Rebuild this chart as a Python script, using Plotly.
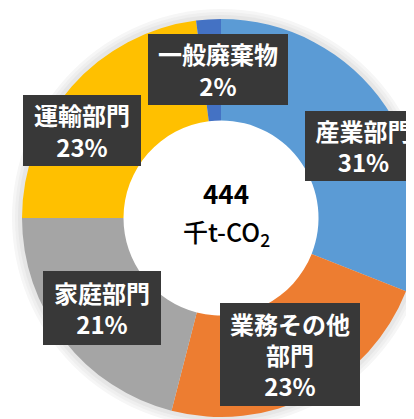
import plotly.graph_objects as go

categories = ["産業部門", "業務その他部門", "家庭部門", "運輸部門", "一般廃棄物"]
values = [31, 23, 21, 23, 2]
colors = ["#5B9BD5", "#ED7D31", "#A5A5A5", "#FFC000", "#4472C4"]
label_lines = [["産業部門"], ["業務その他", "部門"], ["家庭部門"], ["運輸部門"], ["一般廃棄物"]]
total_value = "444"
total_unit = "千t-CO<sub>2</sub>"

W, H = 414, 419
cx, cy, r = 213, 210, 199
hole = 0.49

FONT = "Noto Sans CJK JP"

fig = go.Figure()
fig.add_trace(go.Pie(
    labels=categories, values=values, sort=False, direction="clockwise", rotation=0,
    hole=hole, marker=dict(colors=colors, line=dict(width=0)),
    textinfo="none", hoverinfo="label+percent", showlegend=False,
    domain=dict(x=[(cx - r) / W, (cx + r) / W], y=[1 - (cy + r) / H, 1 - (cy - r) / H]),
))

# soft halo behind the ring, white inside the hole
shapes = []
ri = r * hole
for rr, col in [(r + 10, "#f6f6f6"), (r + 7, "#efefef"), (r + 4, "#e6e6e6"), (ri + 1, "#ffffff")]:
    shapes.append(dict(type="circle", xref="paper", yref="paper", layer="below",
                       x0=(cx - rr) / W, x1=(cx + rr) / W,
                       y0=1 - (cy + rr) / H, y1=1 - (cy - rr) / H,
                       fillcolor=col, line=dict(width=0)))

# label boxes (pixel centre, width, height)
boxes = {
    "産業部門": (355.5, 138, 117, 70),
    "業務その他部門": (282, 346.5, 140, 103),
    "家庭部門": (94, 300, 118, 74),
    "運輸部門": (74, 122.5, 118, 71),
    "一般廃棄物": (210, 61.5, 140, 71),
}
annotations = []
for cat, lines, v in zip(categories, label_lines, values):
    bx, by, bw, bh = boxes[cat]
    text = "<br>".join(lines + [f"{v}%"])
    annotations.append(dict(
        text=text, xref="paper", yref="paper", x=bx / W, y=1 - by / H,
        xanchor="center", yanchor="middle", showarrow=False,
        width=bw, height=bh, align="center", valign="middle",
        bgcolor="#383838", borderpad=0, borderwidth=0,
        font=dict(family=FONT, size=24, color="white", weight="bold"),
    ))

annotations.append(dict(text=f"<b>{total_value}</b>", xref="paper", yref="paper",
                        x=218 / W, y=1 - 185 / H, xanchor="center", yanchor="middle",
                        showarrow=False, font=dict(family=FONT, size=26, color="black")))
annotations.append(dict(text=total_unit, xref="paper", yref="paper",
                        x=218 / W, y=1 - 224 / H, xanchor="center", yanchor="middle",
                        showarrow=False, font=dict(family=FONT, size=25, color="black", weight=500)))

fig.update_layout(
    width=W, height=H, margin=dict(l=0, r=0, t=0, b=0),
    paper_bgcolor="white", plot_bgcolor="white",
    shapes=shapes, annotations=annotations,
)
fig.write_html("out.html")
